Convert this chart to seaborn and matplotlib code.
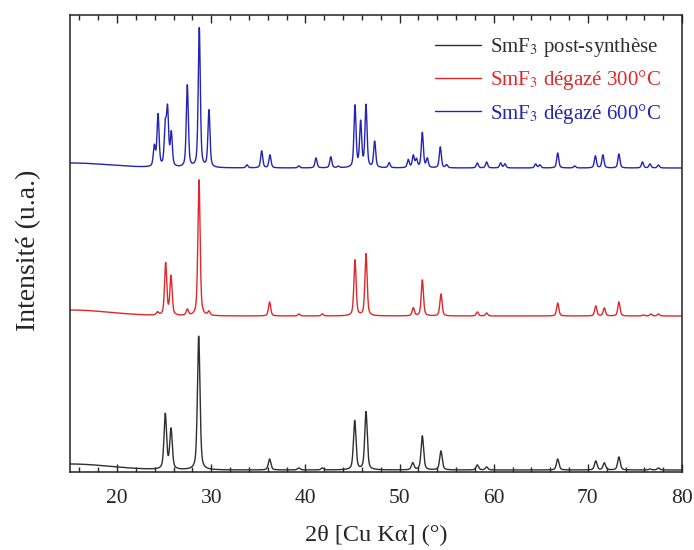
import numpy as np
import pandas as pd
import seaborn as sns
import matplotlib.pyplot as plt
from matplotlib.ticker import MultipleLocator

# peak positions (2theta, deg) and heights (a.u.)
black_pos = [25.12, 25.73, 28.67, 36.2, 39.3, 41.8, 45.24, 46.44, 51.4, 52.42, 54.4,
             58.26, 59.25, 66.8, 70.84, 71.75, 73.3, 76.6, 77.5]
black_h = [55, 40, 134, 11, 2, 2, 49, 58, 7, 34, 19, 5, 3, 11, 9, 7, 13, 1, 2]
black_base = 2
black_rise = 6

red_pos = [24.3, 25.16, 25.73, 27.46, 28.7, 29.76, 36.2, 39.3, 41.8, 45.27, 46.44, 51.46,
           52.42, 54.4, 58.26, 59.25, 66.8, 70.84, 71.75, 73.3, 75.9, 76.7, 77.5]
red_h = [3, 52, 39, 6, 136, 4, 14, 2, 2, 56, 62, 8, 36, 22, 4, 3, 13, 10, 8, 14, 1, 2, 2]
red_base = 156
red_rise = 6

blue_pos = [23.96, 24.35, 25.12, 25.36, 25.76, 27.46, 28.73, 29.76, 33.8, 35.36, 36.24, 39.3,
            41.13, 42.7, 43.5, 45.27, 45.87, 46.44, 47.36, 48.9, 50.93, 51.46, 51.8, 52.42,
            52.95, 54.33, 55.0, 58.26, 59.25, 60.74, 61.2, 64.46, 64.9, 66.8, 68.6, 70.8,
            71.6, 73.3, 75.8, 76.6, 77.5]
blue_h = [20, 52, 38, 55, 33, 82, 140, 57, 3, 17, 13, 2, 10, 11, 1.5, 62, 45, 62, 26, 5,
          8, 12, 8, 35, 9, 21, 3, 5, 6, 5, 4, 4, 3, 15, 2, 12, 13, 14, 6, 4, 3]
blue_base = 304
blue_rise = 5

labels = ['SmF$_3$ post-synthèse', 'SmF$_3$ dégazé 300°C', 'SmF$_3$ dégazé 600°C']
colors = ['#2e2e2e', '#e0282a', '#2424b4']

two_theta = np.arange(15, 80.0001, 0.02)


def pattern(pos, h, base, rise, fwhm):
    y = base + rise * np.exp(-((two_theta - 15) / 6.0) ** 2)
    for p, a in zip(pos, h):
        d = (two_theta - p) / (fwhm / 2)
        y = y + a * (0.5 / (1 + d ** 2) + 0.5 * np.exp(-np.log(2) * d ** 2))
    return y


traces = [(black_pos, black_h, black_base, black_rise, 0.32),
          (red_pos, red_h, red_base, red_rise, 0.28),
          (blue_pos, blue_h, blue_base, blue_rise, 0.26)]

sns.set_style('ticks')
plt.rcParams['font.family'] = ['Liberation Serif', 'DejaVu Serif']
plt.rcParams['mathtext.fontset'] = 'stix'

fig = plt.figure(figsize=(6.94, 5.5), dpi=100)
ax = fig.add_axes([70 / 694, 78 / 550, 612 / 694, 457 / 550])

for (pos, h, base, rise, w), lab, col in zip(traces, labels, colors):
    df = pd.DataFrame({'x': two_theta, 'y': pattern(pos, h, base, rise, w)})
    sns.lineplot(data=df, x='x', y='y', ax=ax, color=col, lw=1.0, label=lab,
                 estimator=None, sort=False)

ax.set_xlim(15, 80)
ax.set_ylim(0, 457)
ax.set_yticks([])
ax.xaxis.set_major_locator(MultipleLocator(10))
ax.xaxis.set_minor_locator(MultipleLocator(2))
ax.tick_params(axis='x', which='both', direction='in', top=True, bottom=True,
               labelsize=15.5, width=1, pad=12)
ax.tick_params(axis='x', which='major', length=6)
ax.tick_params(axis='x', which='minor', length=3.5)
for s in ax.spines.values():
    s.set_linewidth(1.1)
    s.set_color('#222222')
ax.set_xlabel('2θ [Cu Kα] (°)', fontsize=17.5)
ax.set_ylabel('Intensité (u.a.)', fontsize=20)
ax.xaxis.set_label_coords(0.5, -0.115)
ax.yaxis.set_label_coords(-0.047, 0.486)

leg = ax.legend(loc='upper right', frameon=False, fontsize=15, handlelength=2.2,
                handletextpad=0.45, labelspacing=0.45, borderaxespad=0.6)
for t, c in zip(leg.get_texts(), colors):
    t.set_color(c)

fig.savefig('out.png', dpi=100)
